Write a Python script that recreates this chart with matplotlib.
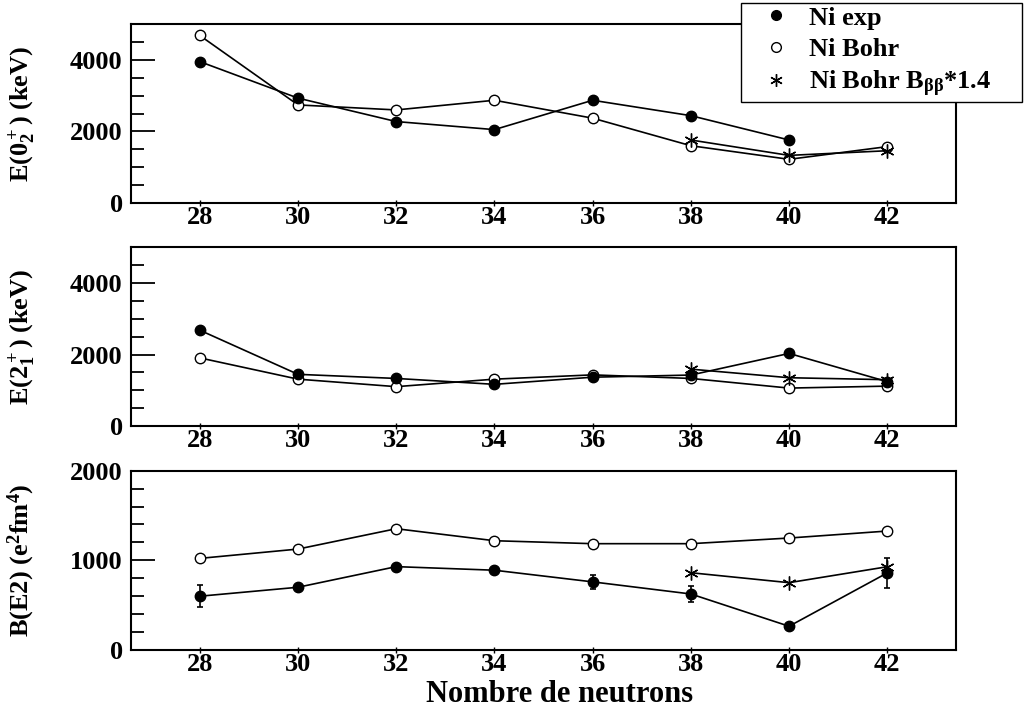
import numpy as np
import matplotlib
matplotlib.use("Agg")
import matplotlib.pyplot as plt
from matplotlib.lines import Line2D

# neutron numbers
neutrons = [28, 30, 32, 34, 36, 38, 40, 42]
neutrons_star = [38, 40, 42]

# E(0_2+) in keV
e0_exp = [3950, 2930, 2275, 2050, 2870, 2440, 1760]
e0_bohr = [4680, 2740, 2600, 2870, 2370, 1600, 1220, 1575]
e0_star = [1760, 1330, 1460]

# E(2_1+) in keV
e2_exp = [2680, 1445, 1330, 1165, 1365, 1425, 2030, 1240]
e2_bohr = [1905, 1310, 1100, 1310, 1430, 1330, 1060, 1115]
e2_star = [1590, 1350, 1295]

# B(E2) in e2fm4
be2_exp = [600, 700, 930, 890, 760, 625, 265, 860]
be2_err = [120, 0, 0, 0, 80, 90, 0, 170]
be2_bohr = [1022, 1126, 1353, 1219, 1186, 1186, 1249, 1327]
be2_star = [862, 751, 929]

plt.rcParams['font.family'] = ['Liberation Serif', 'DejaVu Serif']
plt.rcParams['font.weight'] = 'bold'
plt.rcParams['mathtext.fontset'] = 'custom'
plt.rcParams['mathtext.rm'] = 'Liberation Serif:bold'
plt.rcParams['mathtext.it'] = 'Liberation Serif:bold'
plt.rcParams['mathtext.bf'] = 'Liberation Serif:bold'

asterisk = (6, 2, 0)
ms = 7.5
ms_star = 10


def style_axis(ax, ymax, major, minor, ylabel):
    ax.set_xlim(26.6, 43.4)
    ax.set_ylim(0, ymax)
    ax.set_xticks(neutrons)
    ax.set_yticks(np.arange(0, ymax + 1, major))
    ax.set_yticks(np.arange(0, ymax + 1, minor), minor=True)
    ax.tick_params(axis='y', which='major', direction='in', length=17, width=1.3,
                   labelsize=19, right=False, pad=6)
    ax.tick_params(axis='y', which='minor', direction='in', length=9, width=1.3, right=False)
    ax.tick_params(axis='x', which='major', direction='inout', length=5, width=1.0,
                   labelsize=19, top=False, pad=0)
    for sp in ax.spines.values():
        sp.set_linewidth(1.5)
    ax.set_ylabel(ylabel, fontsize=19, fontweight='bold')
    ax.yaxis.set_label_coords(-0.114, 0.5)


fig = plt.figure(figsize=(10.27, 7.09), dpi=100)
ax1 = fig.add_axes([0.1276, 0.7137, 0.8033, 0.2524])
ax2 = fig.add_axes([0.1276, 0.3992, 0.8033, 0.2520])
ax3 = fig.add_axes([0.1276, 0.0832, 0.8033, 0.2529])

# ============== top panel ==============
ax1.plot(neutrons[:len(e0_exp)], e0_exp, 'k-o', lw=1.2, ms=ms, zorder=3)
ax1.plot(neutrons, e0_bohr, 'k-o', lw=1.2, ms=ms, mfc='white', zorder=2)
ax1.plot(neutrons_star, e0_star, 'k-', marker=asterisk, lw=1.2, ms=ms_star, zorder=4)
style_axis(ax1, 5000, 2000, 500, r'E(0$_2^+$) (keV)')

# ============== middle panel ==============
ax2.plot(neutrons, e2_exp, 'k-o', lw=1.2, ms=ms, zorder=3)
ax2.plot(neutrons, e2_bohr, 'k-o', lw=1.2, ms=ms, mfc='white', zorder=2)
ax2.plot(neutrons_star, e2_star, 'k-', marker=asterisk, lw=1.2, ms=ms_star, zorder=4)
style_axis(ax2, 5000, 2000, 500, r'E(2$_1^+$) (keV)')

# ============== bottom panel ==============
ax3.errorbar(neutrons, be2_exp, yerr=be2_err, fmt='k-o', lw=1.2, ms=ms,
             elinewidth=1.2, capsize=2.5, capthick=1.2, zorder=3)
ax3.plot(neutrons, be2_bohr, 'k-o', lw=1.2, ms=ms, mfc='white', zorder=2)
ax3.plot(neutrons_star, be2_star, 'k-', marker=asterisk, lw=1.2, ms=ms_star, zorder=4)
style_axis(ax3, 2000, 1000, 200, r'B(E2) (e$^2$fm$^4$)')

fig.text(0.545, 1 - 702 / 709, 'Nombre de neutrons', fontsize=22, fontweight='bold',
         ha='center', va='baseline')

handles = [
    Line2D([], [], color='k', marker='o', ls='none', ms=7),
    Line2D([], [], color='k', marker='o', mfc='white', ls='none', ms=7),
    Line2D([], [], color='k', marker=asterisk, ls='none', ms=9),
]
labels = ['Ni exp', 'Ni Bohr', r'Ni Bohr B$_{\beta\beta}$*1.4']
leg = fig.legend(handles, labels, loc='upper left',
                 bbox_to_anchor=(741 / 1027, 1 - 97 / 709, 281 / 1027, 94 / 709),
                 mode='expand', fontsize=19, frameon=True, fancybox=False,
                 edgecolor='black', framealpha=1, borderpad=0.12, labelspacing=0.3,
                 handletextpad=0.05, handlelength=2.4, borderaxespad=0)
leg.get_frame().set_linewidth(1.0)
leg.set_zorder(10)

fig.savefig('out.png', dpi=100)
